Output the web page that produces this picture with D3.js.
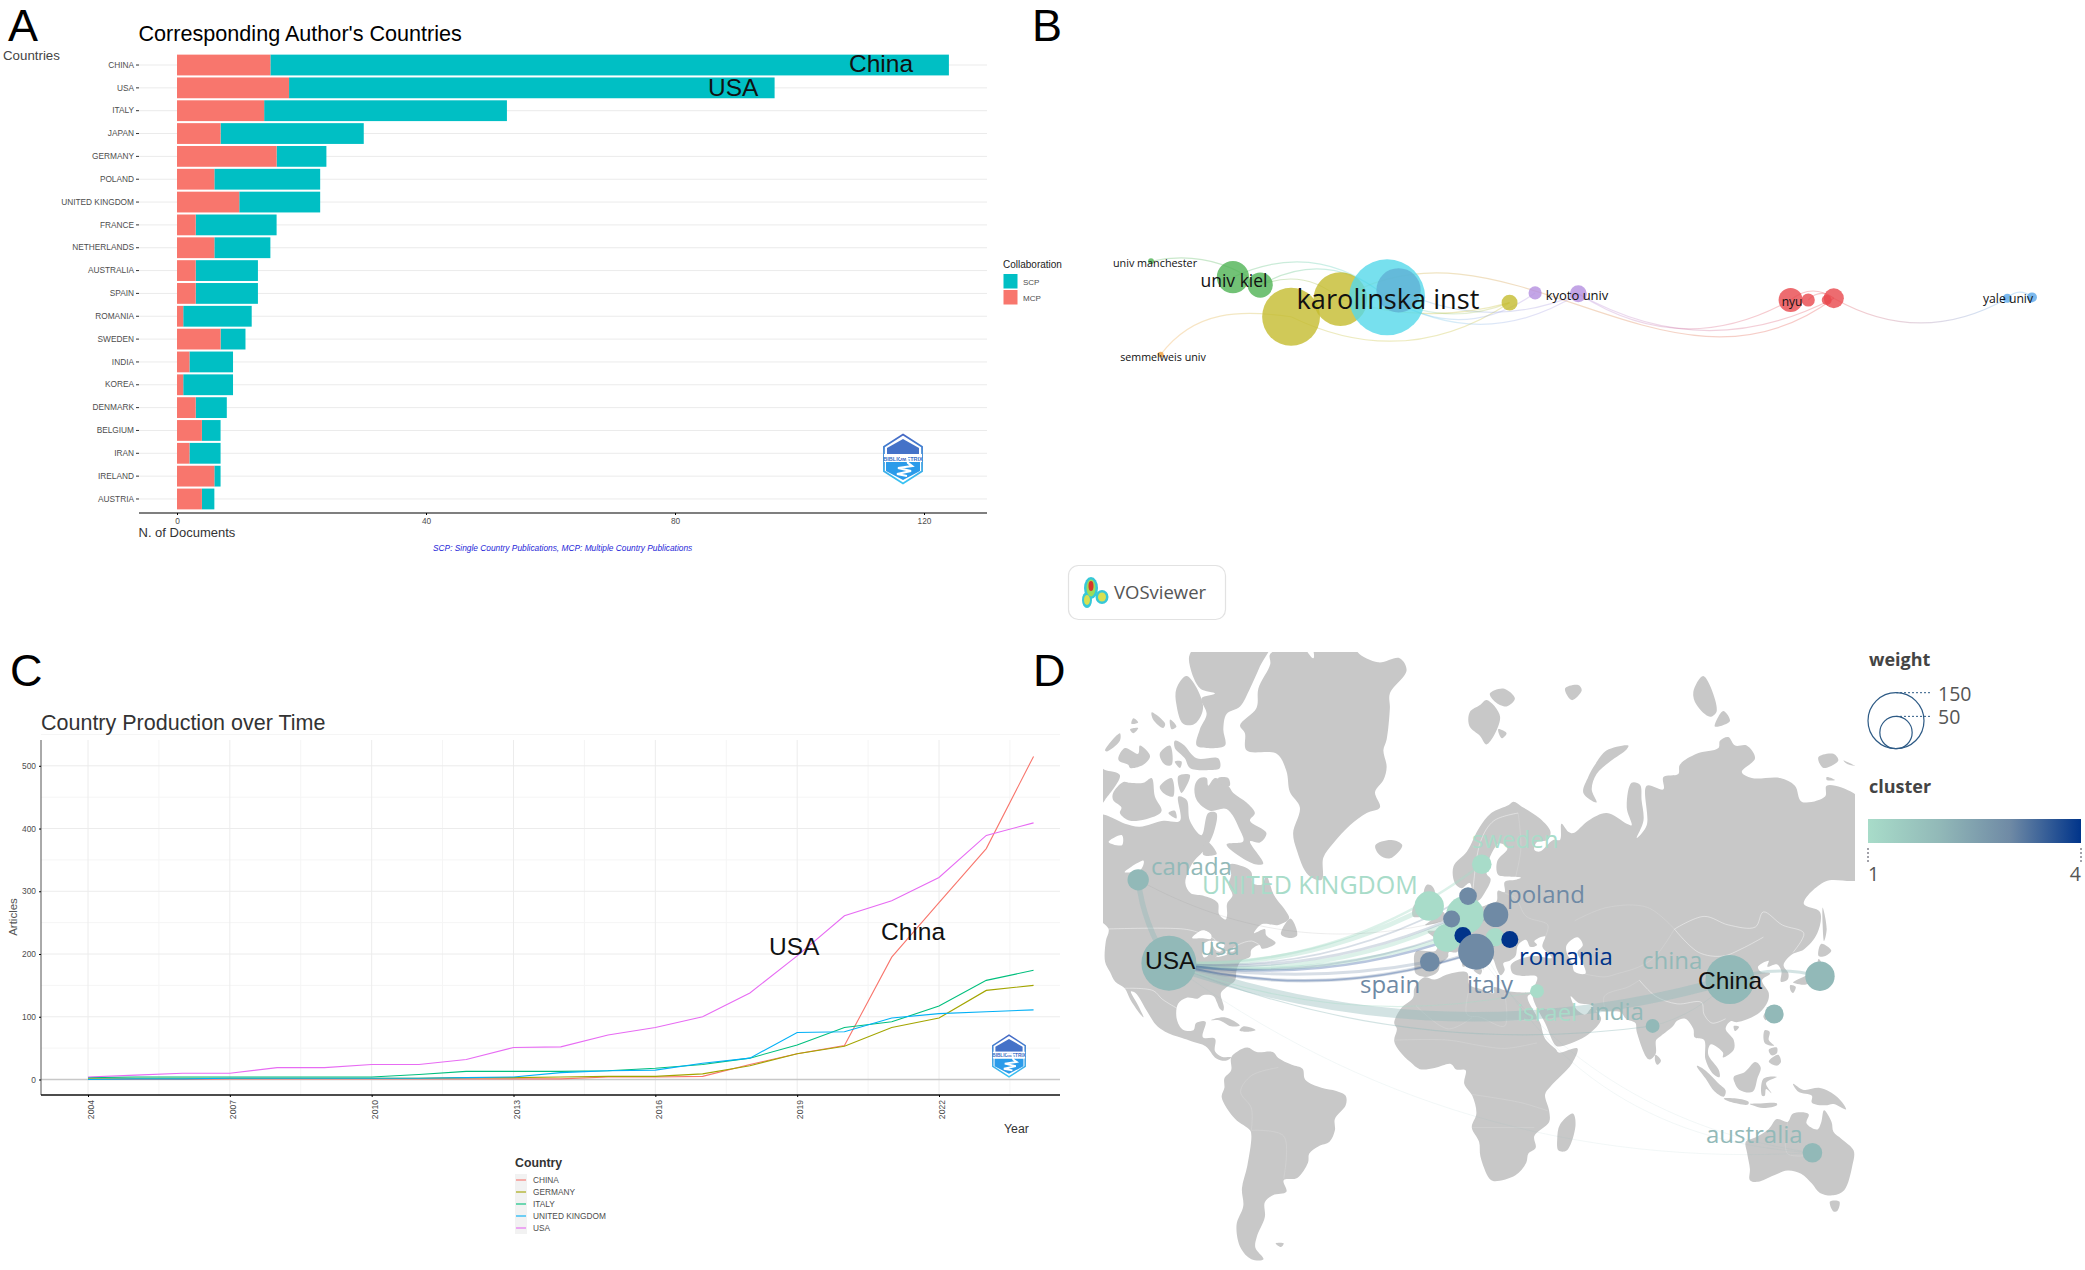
<!DOCTYPE html>
<html>
<head>
<meta charset="utf-8">
<script src="https://cdn.jsdelivr.net/npm/d3@7"></script>
<style>
html, body { margin: 0; padding: 0; background: #fff; }
text { font-family: "Liberation Sans", Arial, sans-serif; }
.vos text, text.vos { font-family: "Open Sans", sans-serif; }
</style>
</head>
<body>
<svg id="chart" width="2085" height="1270"></svg>
<script>
// ---- panel A: corresponding author's countries
var countries = ['CHINA', 'USA', 'ITALY', 'JAPAN', 'GERMANY', 'POLAND', 'UNITED KINGDOM', 'FRANCE', 'NETHERLANDS', 'AUSTRALIA', 'SPAIN', 'ROMANIA', 'SWEDEN', 'INDIA', 'KOREA', 'DENMARK', 'BELGIUM', 'IRAN', 'IRELAND', 'AUSTRIA']
var mcpDocs = [15, 18, 14, 7, 16, 6, 10, 3, 6, 3, 3, 1, 7, 2, 1, 3, 4, 2, 6, 4]
var scpDocs = [109, 78, 39, 23, 8, 17, 13, 13, 9, 10, 10, 11, 4, 7, 8, 5, 3, 5, 1, 2]
var docTicks = [0, 40, 80, 120]

// ---- panel C: country production over time
var years = d3.range(2004, 2025)
var yearTicks = [2004, 2007, 2010, 2013, 2016, 2019, 2022]
var articleTicks = [0, 100, 200, 300, 400, 500]
var seriesNames = ['CHINA', 'GERMANY', 'ITALY', 'UNITED KINGDOM', 'USA']
var chinaArticles = [0, 0, 0, 1, 1, 1, 1, 1, 1, 1, 1, 4, 4, 5, 24, 41, 54, 195, 282, 368, 515]
var germanyArticles = [2, 2, 2, 2, 2, 2, 2, 2, 3, 3, 4, 5, 5, 9, 22, 41, 53, 83, 98, 142, 150]
var italyArticles = [3, 4, 4, 4, 4, 4, 4, 8, 13, 13, 13, 14, 18, 24, 34, 55, 83, 92, 117, 158, 174]
var ukArticles = [0, 1, 1, 2, 2, 2, 2, 2, 3, 4, 11, 14, 15, 26, 34, 75, 76, 98, 105, 108, 111]
var usaArticles = [4, 7, 10, 10, 19, 19, 24, 24, 32, 51, 52, 71, 83, 100, 138, 197, 261, 285, 322, 389, 409]

// ---- panel B: institution network, in map units
var netNames = ['semmelweis univ', 'univ manchester', 'green b', 'univ kiel', 'yellow a', 'yellow b', 'karolinska inst', 'blue a', 'yellow c', 'purple a', 'kyoto univ', 'nyu', 'red b', 'red c', 'red d', 'yale univ', 'blue b']
var netX = [1.1, 0, 12.4, 9.3, 15.9, 21.5, 26.8, 28.1, 40.7, 43.6, 48.5, 72.6, 74.6, 76.7, 77.5, 97.2, 100]
var netY = [6.2, -4.4, -1.7, -2.6, 1.9, -0.1, -0.3, -1.1, 0.3, -0.8, -0.7, 0, 0, 0, -0.2, -0.2, -0.3]
var netWeight = [0.6, 0.6, 11, 18, 58, 50, 100, 34, 4.4, 3, 5, 10, 3, 1.7, 7, 1.4, 1.7]
var netCluster = ['orange', 'green', 'green', 'green', 'yellow', 'yellow', 'cyan', 'blue', 'yellow', 'purple', 'purple', 'red', 'red', 'red', 'red', 'sky', 'sky']
// source, target, bend at 1/3, bend at 2/3
var netLinks = [
    ['univ manchester', 'green b', -0.15, -0.15],
    ['univ kiel', 'karolinska inst', -0.21, -0.21],
    ['green b', 'karolinska inst', -0.23, -0.23],
    ['green b', 'yellow b', -0.2, -0.2],
    ['semmelweis univ', 'yellow a', -0.25, -0.15],
    ['yellow a', 'yellow c', 0.19, 0.19],
    ['yellow b', 'red d', -0.2, 0.25],
    ['kyoto univ', 'nyu', 0.2, 0.2],
    ['kyoto univ', 'red d', 0.18, 0.18],
    ['nyu', 'red d', -0.25, -0.25],
    ['red b', 'red d', -0.3, -0.3],
    ['red d', 'yale univ', 0.19, 0.19],
    ['yale univ', 'blue b', -0.3, -0.3],
    ['karolinska inst', 'purple a', 0.22, 0.22],
    ['karolinska inst', 'kyoto univ', 0.2, 0.2],
    ['blue a', 'kyoto univ', 0.15, 0.15],
    ['karolinska inst', 'yellow c', 0.15, 0.15],
    ['yellow c', 'yellow b', -0.1, -0.1]
]

// ---- panel D: country collaboration map
var mapNames = ['canada', 'usa', 'china', 'japan', 'korea', 'australia', 'india', 'israel', 'sweden', 'united kingdom', 'germany', 'france', 'austria', 'denmark', 'netherlands', 'poland', 'switzerland', 'romania', 'italy', 'spain']
var mapLon = [-112, -100.6, 107.6, 141, 124, 138.2, 78.9, 36, 15.5, -4, 9.3, 2.6, 20.4, 10.4, 4.3, 20.7, 8.5, 25.9, 13.4, -3.8]
var mapLat = [59.6, 40, 35.2, 36.2, 24.1, -25.7, 20, 31.6, 62.4, 54.3, 52.3, 46.8, 47, 56.4, 51.4, 52.4, 47.4, 46.4, 43.2, 40.4]
var mapWeight = [9.5, 63, 50, 18, 7.5, 8, 4, 4, 8, 18, 30, 16, 7, 6.5, 6, 13, 6, 6, 27, 8]
var mapCluster = [2, 2, 2, 2, 2, 2, 2, 1, 1, 1, 1, 1, 1, 3, 3, 3, 4, 4, 3, 3]
// source, target, link strength, bend
var mapLinks = [
    ['usa', 'china', 16, 0.107],
    ['canada', 'usa', 9, 0.08],
    ['usa', 'united kingdom', 8, 0.09],
    ['usa', 'germany', 7, 0.1],
    ['usa', 'france', 6, 0.075],
    ['usa', 'sweden', 4, 0.12],
    ['usa', 'denmark', 3, 0.105],
    ['usa', 'netherlands', 5, 0.085],
    ['usa', 'poland', 3, 0.1],
    ['usa', 'italy', 6, 0.1],
    ['usa', 'spain', 5, 0.06],
    ['usa', 'switzerland', 4, 0.085],
    ['usa', 'romania', 3, 0.11],
    ['usa', 'india', 2, 0.09],
    ['usa', 'israel', 2, 0.1],
    ['usa', 'australia', 1, 0.12],
    ['canada', 'germany', 1.5, 0.14],
    ['china', 'japan', 5, -0.1],
    ['germany', 'australia', 1, 0.2],
    ['italy', 'australia', 1, 0.14],
    ['india', 'china', 1.5, 0.1]
]

// land outlines, lon/lat
var landRings = [
    [[-168,66],[-162,70],[-156,71],[-141,70],[-125,69.8],[-116.9,68.6],[-111.4,68.2],[-102.7,69],[-96.5,69],[-97.1,72],[-94,71.6],[-92.8,69],[-88.5,67],[-86,70],[-83,70],[-84,67.3],[-87,65],[-92,62.5],[-94.5,59],[-92.5,57],[-88,56.5],[-82.5,55],[-82,52.5],[-79.5,51.3],[-79,52.5],[-79,54.8],[-77,56.5],[-78.5,58.7],[-77.5,60.5],[-78,62.4],[-73,62],[-70,61],[-69.5,59],[-66,58.7],[-64.5,60.3],[-61.5,56.5],[-57,53],[-56,51.5],[-60,50],[-66,50.2],[-69,48],[-65,49],[-64.5,47.5],[-61,45.5],[-66,44],[-67,45],[-70,43.7],[-70.5,41.8],[-74,40.5],[-75.5,38],[-76,35],[-79,33],[-81.3,31],[-80.2,26.5],[-80.5,25.2],[-81.8,26],[-82.8,28],[-84,30],[-88,30.3],[-90,29.2],[-94,29.5],[-97.2,27.5],[-97.7,22.5],[-95.5,18.8],[-91.5,18.5],[-90.5,21],[-87,21.5],[-88,16],[-83.5,15.5],[-83.5,11],[-81,9],[-77.5,8.7],[-79.5,7.5],[-83,8.3],[-87,12.8],[-92,14.5],[-96,15.8],[-102,18],[-105.5,20.5],[-109,25.5],[-113,31],[-114.7,31.5],[-112,27],[-110,23],[-112,25],[-115,29],[-117,32.5],[-120.5,34.5],[-122.5,37.5],[-124.3,40.5],[-124,46],[-123,49],[-128,52],[-133,56],[-140,60],[-148,60],[-152,59],[-158,56.5],[-164,54.7],[-158,58.5],[-165,61],[-165,64.5]],
    [[-91,73.2],[-89.1,74],[-86.6,74],[-86,73.2],[-83.5,74],[-78.6,73.2],[-76.7,72.4],[-71.8,71.3],[-68.7,70],[-70.5,69],[-64.4,67.3],[-66.8,65.9],[-70.5,66.1],[-65.6,62.5],[-69.3,62.5],[-79.2,65.6],[-73,66.1],[-74.2,67.7],[-79.2,70.5],[-85.4,70.3],[-90.3,71.6]],
    [[-82.3,74],[-78.6,74],[-78,73.2],[-81,73.3]],
    [[-121.3,72.4],[-117.5,73.6],[-115,73.5],[-110.1,73.5],[-107,74],[-105.8,72],[-103.3,70.3],[-105.2,69.7],[-115,69],[-118.8,70],[-118.2,70.7],[-121.3,71.6]],
    [[-126,75],[-124.3,74.8],[-118.8,74.3],[-124.3,71.6],[-126,71]],
    [[-92.8,82.8],[-87.9,83.3],[-63,83.3],[-66.8,82.2],[-70.5,81],[-74.2,79.9],[-79.2,79.4],[-80.4,78.3],[-79.8,77],[-86.6,76.8],[-90.3,77],[-89.1,78.3],[-86.6,79.4],[-88.5,80.4],[-83.5,80.7],[-89,81],[-92.8,82.2]],
    [[-97.8,81],[-94,81.7],[-87.9,79.9],[-91,78.7],[-95.3,78.7],[-97.8,80]],
    [[-107,79.5],[-102,78.7],[-102.7,78.4],[-106.4,79]],
    [[-100.2,79],[-97.8,78.5],[-99.6,78.3]],
    [[-113.8,79.1],[-112,78.8],[-114.5,78.7]],
    [[-115,78.3],[-112,78.4],[-113.8,78]],
    [[-124.3,76.6],[-118.8,78],[-118.8,77.4],[-123.7,76.5]],
    [[-119.4,75.9],[-116.9,76.8],[-112,76.3],[-111.4,77],[-107.6,76.1],[-110.1,75.3],[-115,75],[-115.7,75.3],[-118.8,75.6]],
    [[-104,76.3],[-100.2,77],[-99.6,75.3],[-102,75.3]],
    [[-98.4,75.6],[-95.9,75.6],[-96.5,75]],
    [[-98.4,77.4],[-95.3,77.1],[-90.3,75.9],[-82.3,75.9],[-81.7,75],[-85.4,74.8],[-92.8,75],[-94.7,75.9],[-98.4,76.8]],
    [[-104,73.1],[-99.6,74],[-99,72],[-102.7,72.4]],
    [[-97.1,74.2],[-92.8,74.3],[-95.9,72.4]],
    [[-100.8,70],[-98.4,70.3],[-97.8,69.3]],
    [[-86.6,66.1],[-82.9,64.1],[-87.9,64]],
    [[-59,47.7],[-55.5,51.5],[-53,47.5],[-56,46.8]],
    [[-85,22],[-80,23],[-74.3,20.2],[-77.5,19.9],[-82,22]],
    [[-74.4,18.4],[-72.8,19.9],[-68.4,18.6],[-71,18]],
    [[-63,82.8],[-52,83.2],[-47,82.6],[-47,84],[-22,84],[-31,83],[-23,82.4],[-15,82.6],[-12.4,82],[-18.6,80.7],[-18.6,79.8],[-19.8,77.5],[-21,76.6],[-19.8,75.1],[-21,73.8],[-24.1,72.5],[-22.3,70.7],[-27.2,70],[-33.4,68.4],[-39.6,65.8],[-43.3,63.5],[-43.9,59.6],[-48.9,60.5],[-53.2,64.8],[-54.5,67.3],[-52,70.7],[-55.7,72.5],[-57,74.7],[-60.6,76.3],[-71.8,76.6],[-72.4,78],[-74.2,78.6],[-68.1,79.8],[-67.4,81],[-63,82.3]],
    [[-77.5,8.7],[-75,11],[-71.5,12.3],[-68,10.7],[-62,10.7],[-60,8.5],[-55,6],[-51,4.5],[-50,0.5],[-44,-2.5],[-38.5,-3.7],[-35,-5.5],[-35,-9],[-39,-14],[-39,-18],[-41,-22],[-45,-23.5],[-48.5,-26],[-49,-29],[-53,-33.8],[-58,-34.5],[-57,-38],[-62,-39],[-65,-41],[-65,-45],[-68,-50],[-68.5,-52.5],[-65.5,-55],[-70,-55],[-74,-52.5],[-75.5,-47],[-73,-42],[-73.5,-37],[-71.5,-30],[-70,-20],[-70.5,-18],[-76,-14],[-81,-6],[-80,-2.5],[-80,1],[-77.5,4]],
    [[-6,35.8],[-2,35.2],[3,36.8],[10,37.3],[11,33.5],[15,32.3],[20,31],[20,32.8],[25,31.6],[32,31.2],[34.3,31.2],[32.5,29.8],[35.5,24],[37.2,21],[39,15.5],[43,11.7],[44,10.5],[51,12],[49,6.5],[45,2],[41,-2],[39,-5],[40.5,-11],[40.5,-15],[35,-20],[35.5,-24],[32.8,-26],[32,-29],[28,-33],[20,-34.8],[18.3,-34],[15,-27],[14.5,-22],[11.8,-17],[13.5,-12],[12,-5.5],[9,-1],[9.5,4],[6,4.3],[4,6.3],[-2,4.8],[-7.5,4.4],[-11,7],[-15,11],[-17,14.7],[-16,19],[-17,21],[-14.5,26],[-10,29.5],[-9.5,32.5]],
    [[49.3,-12],[50.3,-16],[47,-25],[44,-25],[43.5,-21],[44.5,-16]],
    [[-9,37],[-9.5,39],[-9,43.2],[-1.5,43.5],[-1,46],[-4.6,48.4],[-1.5,48.7],[1.5,50.2],[4,52],[5,53.3],[8.5,53.7],[8.2,57],[10.5,57.7],[10,54.8],[14,54],[18.5,54.8],[21,55.3],[21.5,57.5],[24,57.2],[24,59.2],[28,59.6],[30,60],[25,60.2],[21.5,60.6],[21.3,63],[25,65],[22,65.8],[18,63],[17.3,60.7],[18.8,59.7],[16.5,57],[14.3,55.5],[12.8,55.5],[11,59],[8,58],[5.5,59],[5,62],[10,64.5],[14.5,68],[19,70],[25.5,71],[27.2,71.4],[30.9,70.7],[37.1,69.3],[41,67.5],[40,66.3],[36,66],[35,64.8],[37,64.5],[42,66.3],[44.5,66.3],[45.1,68.6],[47.6,67.5],[49.5,67.3],[55,69],[61.9,70],[69.3,68.6],[71.1,68.4],[69.3,70.7],[71.1,73.5],[74.2,73.3],[74.8,71.6],[75.5,69],[73,66.6],[76.7,68.4],[76.7,73.2],[82.9,72.8],[82.9,74.1],[88.4,74.4],[89,75.3],[95.2,76.3],[103.3,76.8],[103.9,77.4],[107,77.7],[109.5,77],[113.8,77],[116.9,75.9],[112,74.6],[115.7,74],[126.2,74],[131.7,73.2],[134.2,71.4],[142.9,72],[143.5,73.2],[153.4,72.4],[160,70],[170,70],[180,69],[180,65],[177,62.5],[170,60],[163,59.8],[162,56],[156.5,51],[155.7,57],[160,60.5],[163,61.8],[155,59.5],[143,59.3],[135,54.8],[141,53],[140,48],[135,43.8],[130.7,42.5],[127.5,39.5],[129.3,37],[129,35.2],[126.5,34.5],[126.7,37.7],[125,39.7],[121.5,39],[122,40.7],[118,39],[119,37.5],[122.5,37],[119.5,35],[122,31],[121.5,28],[118.5,24.5],[114,22.3],[110,21.3],[108,21.7],[106,19],[109,15],[109,11.5],[105,8.7],[105,10.5],[100.5,13.5],[99.5,10],[103.5,4],[103.7,1.4],[101,3],[98.5,8],[98,15],[94.5,16],[94,19],[91,22.5],[88,21.8],[86.5,20],[82,16.5],[80.2,15],[80,10],[77.5,8],[73,18],[72.5,21],[69,22.5],[67,24.8],[61.5,25],[57,25.6],[56.5,27],[51.5,27.8],[48.5,30],[50,26.5],[51.5,25],[54,24],[56.3,26],[59.8,22.5],[55,17],[45,12.8],[43,13],[39,21],[35,28],[34.3,31.2],[36,36],[30.5,36.3],[27,37],[26.3,39.5],[29,41],[35,42],[41.5,41.5],[38,44.5],[39,47.2],[35,46],[36,45],[33.5,44.5],[32,46.3],[29,45],[28,42],[26,40.8],[23.5,40],[24,38],[22.5,36.5],[21,38.5],[19.5,41.5],[14,45.2],[12.4,44.5],[16,41.7],[18.5,40],[16.5,39.5],[16,38],[15.5,40],[12.5,41.5],[10.3,43.5],[8.8,44.4],[6,43],[3.2,43],[3,41.8],[0,39.5],[-0.5,38],[-2,36.8],[-5.5,36]],
    [[-5.5,50],[1.5,51.2],[1.7,52.7],[0,53.5],[-1.7,55.5],[-2,57.6],[-3.5,58.6],[-5,58.6],[-6,56.5],[-3.2,54.8],[-3,53.4],[-5,52],[-3,51.4]],
    [[-10,52],[-6.2,52.2],[-6,54.5],[-8,55.3],[-10,54]],
    [[-24,65.5],[-18,66.3],[-14,65.5],[-18.5,63.4],[-22.5,64]],
    [[11,79.5],[15,80],[17.3,80.3],[22.3,79.2],[17.3,77.1],[14.8,77.8],[11,78.5]],
    [[18.5,80.7],[23.5,81],[27.8,80.4],[24.7,79.9],[20.4,80.2]],
    [[21.6,78.3],[24.7,78],[22.9,77.6]],
    [[46.4,81],[51.3,81.2],[52.6,80.9],[48.9,80.3]],
    [[69.9,77],[61.9,76.6],[57.5,75.3],[55,74.1],[53.2,72.4],[58.1,71.3],[56.3,72.8],[58.1,74.4],[63.1,75.6],[69.3,76.7]],
    [[94,80.8],[97.7,81.7],[102.7,79.6],[100.2,79.2],[95.2,80]],
    [[105.1,79.6],[107.6,78.9],[102,78.5]],
    [[140.4,76],[146,76.3],[147.8,75.7],[142.3,75]],
    [[149.7,75.7],[154,75.2],[151,75.4]],
    [[143.5,74.1],[146.6,73.8],[143.5,73.8]],
    [[142,54],[143.5,49],[142.5,46],[142,50]],
    [[140.5,42],[141.5,45.3],[145.2,43.5],[143,42]],
    [[131,34.3],[136,36.5],[139.5,38.5],[140.5,41.2],[141.8,39.5],[140.8,36],[138.8,34.8],[135.5,33.6],[132,34]],
    [[130,33.5],[132,33],[131,31],[130,32]],
    [[121.5,25.2],[121,22],[120,23.3]],
    [[109,20],[111,19.7],[109.5,18.2]],
    [[120.5,18.5],[122.3,18],[122,15],[124,13],[120.5,14]],
    [[122,7.2],[125.5,9.7],[126.5,7],[125,5.7]],
    [[122,11.5],[125,12.3],[125,10.2],[123,9.5]],
    [[80,9.7],[82,7.5],[80.6,6],[79.8,7.5]],
    [[109,1.5],[113,3.2],[117,7],[119,5],[117.8,1],[116,-4],[111,-3.2],[109.3,-0.5]],
    [[95.3,5.6],[98,4.3],[103.5,-1],[106,-3.5],[105.3,-5.8],[102,-4],[98.5,1]],
    [[105.3,-6.5],[110,-6.5],[114.5,-7.7],[114.3,-8.7],[108,-7.8]],
    [[119.5,-5.5],[120,0.8],[125,1.5],[121,-0.7],[123,-4.5],[121,-3],[120.5,-5.5]],
    [[131,-1],[135,-3.3],[141,-2.6],[147.5,-6],[150.7,-10.5],[146,-8.5],[143,-9],[138,-8],[138,-5.5],[133,-4]],
    [[115,-8.5],[119,-8.3],[125,-8.3],[125,-9],[120,-10],[116,-9]],
    [[113.5,-22],[114,-26],[115,-31],[115,-34.5],[118,-35],[124,-33],[129,-31.5],[134,-32.5],[138,-35.5],[141,-38.3],[146,-39],[150,-37.5],[153,-30],[153.5,-25],[149,-21],[146,-18.5],[145.3,-15],[142.5,-10.8],[141.5,-15],[140,-17.7],[136,-15.5],[136.8,-12.2],[131,-12],[129,-15],[125,-14],[122,-17.5],[117,-20.5]],
    [[144.7,-40.8],[148.2,-40.8],[147.5,-43.3],[146,-43.5]],
    [[8.3,41],[9.7,41],[9.5,39.2],[8.5,39]],
    [[12.5,38],[15.5,38.2],[15,36.7]],
    [[-61,-51.5],[-58,-51.5],[-59,-52.3]]
]
var lakeRings = [
    [[47,45],[51,47],[53,45],[51,43],[53,40],[54,37],[50,37.5],[49,40],[47,43]],
    [[-92,46.8],[-88,48.7],[-85,47.7],[-85,46.6],[-88,46.7]],
    [[-87.7,41.7],[-88,45],[-85,46],[-86.2,42]],
    [[-84.5,46],[-80,45],[-81.7,43.2],[-83.5,43.8]],
    [[-83.3,41.7],[-79,43],[-76.2,44],[-76.5,43.3],[-79.7,43.2],[-79,42.5]],
    [[-123,66],[-118,67],[-118,65.5]],
    [[-117,61],[-110,63],[-111,61.5]]
]
var borderLines = [
    [[-125,49],[-95,49],[-89,48],[-83,46],[-82.5,42],[-79,43],[-75,45],[-70,46],[-67,45]],
    [[-117,32.5],[-106.5,31.8],[-103,29],[-97.5,26]],
    [[87,49],[98,52],[107,50],[117,49.5],[120,53],[127,50],[135,48],[131,43]],
    [[87,49],[96,43],[105,42],[112,44],[120,47]],
    [[74,35],[80,30],[88,27.5],[97,28],[98,24],[101,21],[106,22.5]],
    [[12,56],[15,66],[20,69],[29,70]]
]
var faintBorderLines = [
    [[50,51],[62,54],[77,54],[87,49]],
    [[74,35],[70,33],[61,30],[61.5,25]],
    [[53,37],[61,36],[66,37],[74,39],[80,42],[87,49]],
    [[11,33],[10,24],[15,23],[24,20],[24,31]],
    [[24,22],[37,22]],
    [[-9,27],[3,19],[12,23]],
    [[-17,15],[3,15],[15,13],[24,12],[36,14]],
    [[12,-5],[30,-8],[40,-11]],
    [[12,-17],[35,-17]],
    [[-70,-18],[-58,-20],[-58,-34]],
    [[-70,-18],[-70,-10],[-74,-4],[-70,2],[-60,5]],
    [[24,57],[28,56],[32,52],[40,50],[39,47]],
    [[28,60],[30,65],[29,70]],
    [[141,-26],[129,-26],[129,-15]]
]

// ---- style tables
var clusterHue = { orange: '#f0a040', green: '#4fb354', yellow: '#c4bc2e', cyan: '#55d8ea', blue: '#5fb0d4', purple: '#b48ee0', red: '#e8474c', sky: '#5aa8ea' }
var barColor = { scp: '#00BFC4', mcp: '#F8766D' }
var lineColors = ['#F8766D', '#A3A500', '#00BF7D', '#00B0F6', '#E76BF3']
var textGrey = '#4d4d4d'

var svg = d3.select('#chart')
var defs = svg.append('defs')

// panel letters
var letters = [['A', 8, 41], ['B', 1032, 41], ['C', 10, 686], ['D', 1033, 686]]
svg.selectAll('text.letter').data(letters).enter().append('text')
    .attr('class', 'letter').text(d => d[0]).attr('x', d => d[1]).attr('y', d => d[2])
    .attr('font-size', 45).attr('fill', '#000')

// bibliometrix badge, used in A and C
function drawLogo(cx, cy, size, id) {
    var g = svg.append('g').attr('transform', 'translate(' + cx + ',' + cy + ') scale(' + size + ')')
    var grad = defs.append('linearGradient').attr('id', id).attr('x1', 0).attr('x2', 0).attr('y1', 0).attr('y2', 1)
    grad.append('stop').attr('offset', 0).attr('stop-color', '#4668c4')
    grad.append('stop').attr('offset', 1).attr('stop-color', '#38c4f4')
    var hex = d3.range(6).map(function (i) {
        var a = Math.PI / 3 * i
        return [Math.sin(a) * 22, -Math.cos(a) * 24.5]
    })
    g.append('path').attr('d', d3.line()(hex) + 'Z').attr('fill', '#fff').attr('stroke', 'url(#' + id + ')').attr('stroke-width', 1.8)
    g.append('path').attr('d', 'M0,-20L16,-11L16,-5L-16,-5L-16,-11Z').attr('fill', '#4472c8')
    g.append('path').attr('d', 'M-17,3L17,3L17,12L0,21L-17,12Z').attr('fill', '#2b9bea')
    g.append('rect').attr('x', -19).attr('y', -5).attr('width', 38).attr('height', 8).attr('fill', '#fff')
    g.append('text').text('BIBLIOMETRIX').attr('text-anchor', 'middle').attr('y', 1.5)
        .attr('font-size', 5.5).attr('font-weight', 700).attr('fill', '#3a6cc4')
    g.append('path').attr('d', 'M-3,-2L4,-2L5,4L9,7L-5,9L8,12L-6,15L4,17').attr('fill', 'none').attr('stroke', '#fff').attr('stroke-width', 2.2)
}

// ================ A ================
var axA = { left: 139, right: 987, bottom: 513 }
var xA = d3.scaleLinear().domain([0, 120]).range([177, 924])
var yA = d3.scaleBand().domain(countries).range([53.6, 510.4]).paddingInner(0.09).paddingOuter(0.045)
var gA = svg.append('g')

svg.append('text').text("Corresponding Author's Countries").attr('x', 138.5).attr('y', 41).attr('font-size', 21.6).attr('fill', '#000')
svg.append('text').text('Countries').attr('x', 3).attr('y', 60).attr('font-size', 13.3).attr('fill', '#444')

gA.selectAll('line.grid').data(countries).enter().append('line')
    .attr('x1', axA.left).attr('x2', axA.right)
    .attr('y1', d => yA(d) + yA.bandwidth() / 2).attr('y2', d => yA(d) + yA.bandwidth() / 2)
    .attr('stroke', '#ebebeb').attr('stroke-width', 1)

gA.selectAll('rect.scp').data(countries).enter().append('rect')
    .attr('x', (d, i) => xA(mcpDocs[i])).attr('y', d => yA(d))
    .attr('width', (d, i) => xA(scpDocs[i]) - xA(0)).attr('height', yA.bandwidth())
    .attr('fill', barColor.scp)
gA.selectAll('rect.mcp').data(countries).enter().append('rect')
    .attr('x', xA(0)).attr('y', d => yA(d))
    .attr('width', (d, i) => xA(mcpDocs[i]) - xA(0)).attr('height', yA.bandwidth())
    .attr('fill', barColor.mcp)

var axisLeftA = gA.append('g').attr('transform', 'translate(' + axA.left + ',0)')
    .call(d3.axisLeft(yA).tickSize(3).tickPadding(2))
axisLeftA.select('.domain').remove()
axisLeftA.selectAll('text').attr('font-size', 8.3).attr('fill', textGrey).attr('font-family', 'Liberation Sans')
axisLeftA.selectAll('line').attr('stroke', '#333')

var axisBottomA = gA.append('g').attr('transform', 'translate(0,' + axA.bottom + ')')
    .call(d3.axisBottom(xA).tickValues(docTicks).tickSize(2).tickPadding(3))
axisBottomA.select('.domain').attr('d', 'M' + axA.left + ',0H' + axA.right).attr('stroke', '#555').attr('stroke-width', 1.5)
axisBottomA.selectAll('text').attr('font-size', 8.3).attr('fill', textGrey).attr('font-family', 'Liberation Sans')

svg.append('text').text('N. of Documents').attr('x', 138.5).attr('y', 537).attr('font-size', 13).attr('fill', '#333')
svg.append('text').text('SCP: Single Country Publications, MCP: Multiple Country Publications')
    .attr('x', 433).attr('y', 551).attr('font-size', 8.35).attr('font-style', 'italic').attr('fill', '#1f1fd8')
svg.append('text').text('China').attr('x', 849).attr('y', 72).attr('font-size', 24.5).attr('fill', '#111')
svg.append('text').text('USA').attr('x', 708).attr('y', 96).attr('font-size', 24.5).attr('fill', '#111')

svg.append('text').text('Collaboration').attr('x', 1003).attr('y', 268).attr('font-size', 10).attr('fill', '#222')
var legA = [['SCP', barColor.scp, 274], ['MCP', barColor.mcp, 290]]
svg.selectAll('rect.legA').data(legA).enter().append('rect').attr('class', 'legA')
    .attr('x', 1003.5).attr('y', d => d[2]).attr('width', 14).attr('height', 14.5).attr('fill', d => d[1])
svg.selectAll('text.legA').data(legA).enter().append('text').attr('class', 'legA')
    .text(d => d[0]).attr('x', 1023).attr('y', d => d[2] + 10.5).attr('font-size', 8).attr('fill', textGrey)

drawLogo(903, 459, 1, 'logoA')

// ================ B ================
var xB = d3.scaleLinear().domain([0, 100]).range([1151, 2032])
var yB = d3.scaleLinear().domain([-10, 10]).range([211.9, 388.1])
var rB = d3.scaleSqrt().domain([0, 100]).range([0, 38])
var netIndex = {}
netNames.forEach(function (n, i) { netIndex[n] = i })

// cubic link, both controls pushed sideways from the chord
function bentPath(ax, ay, bx, by, b1, b2) {
    var dx = bx - ax, dy = by - ay
    return 'M' + ax + ',' + ay + 'C' + (ax + dx / 3 - dy * b1) + ',' + (ay + dy / 3 + dx * b1) + ' '
        + (ax + dx * 2 / 3 - dy * b2) + ',' + (ay + dy * 2 / 3 + dx * b2) + ' ' + bx + ',' + by
}

var gB = svg.append('g')
netLinks.forEach(function (l, i) {
    var a = netIndex[l[0]], b = netIndex[l[1]]
    var id = 'netlink' + i
    var grad = defs.append('linearGradient').attr('id', id).attr('gradientUnits', 'userSpaceOnUse')
        .attr('x1', xB(netX[a])).attr('y1', 0).attr('x2', xB(netX[b])).attr('y2', 0)
    grad.append('stop').attr('offset', 0).attr('stop-color', clusterHue[netCluster[a]])
    grad.append('stop').attr('offset', 1).attr('stop-color', clusterHue[netCluster[b]])
    gB.append('path').attr('d', bentPath(xB(netX[a]), yB(netY[a]), xB(netX[b]), yB(netY[b]), l[2], l[3]))
        .attr('fill', 'none').attr('stroke', 'url(#' + id + ')').attr('stroke-width', 1.2).attr('stroke-opacity', 0.3)
})
gB.selectAll('circle').data(netNames).enter().append('circle')
    .attr('cx', (d, i) => xB(netX[i])).attr('cy', (d, i) => yB(netY[i])).attr('r', (d, i) => rB(netWeight[i]))
    .attr('fill', (d, i) => clusterHue[netCluster[i]]).attr('fill-opacity', 0.8)

var netLabels = [
    ['karolinska inst', 27.2, 1388, 309],
    ['univ kiel', 17.5, 1234, 287],
    ['univ manchester', 10.8, 1155, 267],
    ['semmelweis univ', 10.7, 1163, 361],
    ['kyoto univ', 13, 1577, 300],
    ['nyu', 12, 1792, 306],
    ['yale univ', 12.2, 2008, 303]
]
gB.selectAll('text').data(netLabels).enter().append('text').attr('class', 'vos')
    .text(d => d[0]).attr('font-size', d => d[1]).attr('x', d => d[2]).attr('y', d => d[3])
    .attr('text-anchor', 'middle').attr('fill', '#111')

// VOSviewer badge
svg.append('rect').attr('x', 1068.5).attr('y', 565.5).attr('width', 157).attr('height', 54).attr('rx', 10)
    .attr('fill', '#fff').attr('stroke', '#e2e2e2').attr('stroke-width', 1.2)
var blobs = [[1091, 588, 7, 11, '#36c8d8'], [1087, 600, 5, 8, '#36c8d8'], [1102, 597, 6.5, 7, '#36c8d8'],
    [1091, 588, 4.5, 8.5, '#9bdc5a'], [1087, 600, 3, 5, '#d8e050'], [1102, 597, 4, 4.5, '#d8e050'], [1091, 586, 2.5, 5, '#d8362a']]
svg.selectAll('ellipse').data(blobs).enter().append('ellipse')
    .attr('cx', d => d[0]).attr('cy', d => d[1]).attr('rx', d => d[2]).attr('ry', d => d[3]).attr('fill', d => d[4])
svg.append('text').attr('class', 'vos').text('VOSviewer').attr('x', 1114).attr('y', 599).attr('font-size', 18.5).attr('fill', '#555')

// ================ C ================
var xC = d3.scaleLinear().domain([2004, 2022]).range([88, 939])
var yC = d3.scaleLinear().domain([0, 500]).range([1079.5, 765.8])
var frameC = { left: 41, right: 1060, top: 740, bottom: 1095 }
var gC = svg.append('g')

svg.append('text').text('Country Production over Time').attr('x', 41).attr('y', 730).attr('font-size', 21.5).attr('fill', '#333')

// grid: minor then major
var minorYears = yearTicks.map(d => d + 1.5)
var minorArticles = articleTicks.map(d => d + 50)
gC.selectAll('line.minx').data(minorYears).enter().append('line')
    .attr('x1', d => xC(d)).attr('x2', d => xC(d)).attr('y1', frameC.top).attr('y2', frameC.bottom).attr('stroke', '#f5f5f5')
gC.selectAll('line.miny').data(minorArticles).enter().append('line')
    .attr('y1', d => yC(d)).attr('y2', d => yC(d)).attr('x1', frameC.left).attr('x2', frameC.right).attr('stroke', '#f5f5f5')
gC.selectAll('line.majx').data(yearTicks).enter().append('line')
    .attr('x1', d => xC(d)).attr('x2', d => xC(d)).attr('y1', frameC.top).attr('y2', frameC.bottom).attr('stroke', '#ececec')
gC.selectAll('line.majy').data(articleTicks).enter().append('line')
    .attr('y1', d => yC(d)).attr('y2', d => yC(d)).attr('x1', frameC.left).attr('x2', frameC.right)
    .attr('stroke', d => d === 0 ? '#c8c8c8' : '#ececec').attr('stroke-width', d => d === 0 ? 1.3 : 1)

var axisLeftC = gC.append('g').attr('transform', 'translate(' + frameC.left + ',0)')
    .call(d3.axisLeft(yC).tickValues(articleTicks).tickSize(2).tickPadding(3))
axisLeftC.select('.domain').attr('d', 'M0,' + frameC.top + 'V' + frameC.bottom).attr('stroke', '#555')
axisLeftC.selectAll('text').attr('font-size', 8.4).attr('fill', textGrey).attr('font-family', 'Liberation Sans')

var axisBottomC = gC.append('g').attr('transform', 'translate(0,' + frameC.bottom + ')')
    .call(d3.axisBottom(xC).tickValues(yearTicks).tickFormat(d3.format('d')).tickSize(2))
axisBottomC.select('.domain').attr('d', 'M' + frameC.left + ',0H' + frameC.right).attr('stroke', '#111').attr('stroke-width', 1.6)
axisBottomC.selectAll('text').attr('font-size', 8.6).attr('fill', textGrey).attr('font-family', 'DejaVu Sans')
    .attr('text-anchor', 'end').attr('transform', 'rotate(-90)').attr('x', -5).attr('y', 3).attr('dy', '0.32em')

svg.append('text').text('Articles').attr('transform', 'translate(17,917) rotate(-90)').attr('text-anchor', 'middle')
    .attr('font-size', 11.5).attr('font-family', 'DejaVu Sans').attr('fill', '#555')
svg.append('text').text('Year').attr('x', 1004).attr('y', 1133).attr('font-size', 12.3).attr('fill', '#333')

var line = d3.line().x((d, i) => xC(years[i])).y(d => yC(d))
var seriesValues = [chinaArticles, germanyArticles, italyArticles, ukArticles, usaArticles]
gC.selectAll('path.cline').data(seriesValues).enter().append('path')
    .attr('class', 'cline').attr('d', line).attr('fill', 'none')
    .attr('stroke', (d, i) => lineColors[i]).attr('stroke-width', 1.1)

svg.append('text').text('USA').attr('x', 769).attr('y', 955).attr('font-size', 24.5).attr('fill', '#111')
svg.append('text').text('China').attr('x', 881).attr('y', 940).attr('font-size', 24.5).attr('fill', '#111')

svg.append('text').text('Country').attr('x', 515).attr('y', 1167).attr('font-size', 12.3).attr('font-weight', 700).attr('fill', '#333')
var yLeg = d3.scalePoint().domain(seriesNames).range([1180, 1228])
svg.append('rect').attr('x', 515).attr('y', 1174).attr('width', 12).attr('height', 60).attr('fill', '#f2f2f2')
svg.selectAll('line.legC').data(seriesNames).enter().append('line')
    .attr('x1', 516).attr('x2', 526).attr('y1', d => yLeg(d)).attr('y2', d => yLeg(d))
    .attr('stroke', (d, i) => lineColors[i]).attr('stroke-width', 1.1)
svg.selectAll('text.legC').data(seriesNames).enter().append('text').attr('class', 'legC')
    .text(d => d).attr('x', 533).attr('y', d => yLeg(d) + 3).attr('font-size', 8.3).attr('fill', textGrey)

drawLogo(1009, 1056, 0.85, 'logoC')

// ================ D ================
var projection = d3.geoMercator().scale(154.4).translate([1440, 1081])
var box = { x: 1103, y: 652, w: 752, h: 613 }
defs.append('clipPath').attr('id', 'mapclip').append('rect')
    .attr('x', box.x).attr('y', box.y).attr('width', box.w).attr('height', box.h)
var gD = svg.append('g').attr('clip-path', 'url(#mapclip)')
var smoothRing = d3.line().curve(d3.curveCatmullRomClosed.alpha(0.5))
var ringPath = function (r) { return smoothRing(r.map(projection)) }
var openPath = function (r) { return d3.line().curve(d3.curveCatmullRom.alpha(0.5))(r.map(projection)) }

gD.selectAll('path.land').data(landRings).enter().append('path').attr('class', 'land')
    .attr('d', ringPath).attr('fill', '#c8c8c8')
gD.selectAll('path.lake').data(lakeRings).enter().append('path').attr('class', 'lake')
    .attr('d', ringPath).attr('fill', '#fff')
gD.selectAll('path.border').data(borderLines).enter().append('path').attr('class', 'border')
    .attr('d', openPath).attr('fill', 'none')
    .attr('stroke', '#fff').attr('stroke-opacity', 0.55).attr('stroke-width', 0.8)
gD.selectAll('path.faint').data(faintBorderLines).enter().append('path').attr('class', 'faint')
    .attr('d', openPath).attr('fill', 'none')
    .attr('stroke', '#fff').attr('stroke-opacity', 0.18).attr('stroke-width', 0.8)

var clusterColor = d3.scaleLinear().domain([1, 2, 3, 4]).range(['#a8dcc9', '#92b9b8', '#6f8aa5', '#00348a'])
var rMap = d3.scaleSqrt().domain([0, 63]).range([0, 27.5])
var widthMap = d3.scaleLinear().domain([0, 16]).range([0, 9.5])
var mapIndex = {}
mapNames.forEach(function (n, i) { mapIndex[n] = i })

gD.selectAll('path.mlink').data(mapLinks).enter().append('path').attr('class', 'mlink')
    .attr('d', function (l) {
        var a = mapIndex[l[0]], b = mapIndex[l[1]]
        var p = projection([mapLon[a], mapLat[a]]), q = projection([mapLon[b], mapLat[b]])
        return bentPath(p[0], p[1], q[0], q[1], l[3], l[3])
    })
    .attr('fill', 'none').attr('stroke-width', l => widthMap(l[2]))
    .attr('stroke', l => l[0] === 'canada' && l[1] !== 'usa' ? '#9a9a9a' : clusterColor(mapCluster[mapIndex[l[1]]]))
    .attr('stroke-opacity', function (l) {
        if (l[2] <= 1.5) return 0.2
        return mapCluster[mapIndex[l[1]]] > 2 ? 0.28 : 0.4
    })

gD.selectAll('circle').data(mapNames).enter().append('circle')
    .attr('cx', (d, i) => projection([mapLon[i], mapLat[i]])[0])
    .attr('cy', (d, i) => projection([mapLon[i], mapLat[i]])[1])
    .attr('r', (d, i) => rMap(mapWeight[i]))
    .attr('fill', (d, i) => clusterColor(mapCluster[i]))

var mapLabels = [
    ['canada', 1151, 875, 2, 24], ['UNITED KINGDOM', 1202, 894, 1, 25], ['usa', 1200, 955, 2, 24],
    ['sweden', 1472, 848, 1, 24], ['poland', 1507, 903, 3, 24], ['romania', 1519, 965, 4, 24],
    ['spain', 1360, 993, 3, 24], ['italy', 1467, 993, 3, 24], ['china', 1642, 969, 2, 24],
    ['israel', 1517, 1021, 1, 24], ['india', 1589, 1020, 2, 24], ['australia', 1706, 1143, 2, 24]
]
gD.selectAll('text.mlabel').data(mapLabels).enter().append('text').attr('class', 'vos mlabel')
    .text(d => d[0]).attr('x', d => d[1]).attr('y', d => d[2]).attr('font-size', d => d[4])
    .attr('fill', d => clusterColor(d[3]))
svg.append('text').text('USA').attr('x', 1145).attr('y', 969).attr('font-size', 24.5).attr('fill', '#111')
svg.append('text').text('China').attr('x', 1698).attr('y', 989).attr('font-size', 24.5).attr('fill', '#111')

// D legends
var legD = svg.append('g').attr('class', 'vos')
legD.append('text').text('weight').attr('x', 1869).attr('y', 666).attr('font-size', 18).attr('font-weight', 700).attr('fill', '#444')
legD.append('text').text('cluster').attr('x', 1869).attr('y', 793).attr('font-size', 18).attr('font-weight', 700).attr('fill', '#444')
var legCircles = [[150, 'big'], [50, 'small']]
var rLeg = d3.scaleSqrt().domain([0, 150]).range([0, 28])
var legBase = 748.7
legD.selectAll('circle').data(legCircles).enter().append('circle')
    .attr('cx', 1896).attr('cy', d => legBase - rLeg(d[0])).attr('r', d => rLeg(d[0]))
    .attr('fill', 'none').attr('stroke', '#2d5a85').attr('stroke-width', 1.2)
legD.selectAll('line.lead').data(legCircles).enter().append('line')
    .attr('x1', 1896).attr('x2', 1930)
    .attr('y1', d => legBase - 2 * rLeg(d[0])).attr('y2', d => legBase - 2 * rLeg(d[0]))
    .attr('stroke', '#2d5a85').attr('stroke-dasharray', '2 2')
legD.selectAll('text.size').data(legCircles).enter().append('text').attr('class', 'size')
    .text(d => d[0]).attr('x', 1938).attr('y', d => legBase - 2 * rLeg(d[0]) + 8).attr('font-size', 19.5).attr('fill', '#555')

var legGrad = defs.append('linearGradient').attr('id', 'clusterbar')
;[1, 2, 3, 4].forEach(function (c) {
    legGrad.append('stop').attr('offset', (c - 1) / 3).attr('stop-color', clusterColor(c))
})
var xLeg = d3.scaleLinear().domain([1, 4]).range([1868, 2081])
legD.append('rect').attr('x', xLeg(1)).attr('y', 819).attr('width', xLeg(4) - xLeg(1)).attr('height', 24).attr('fill', 'url(#clusterbar)')
legD.selectAll('line.dash').data([1, 4]).enter().append('line')
    .attr('x1', d => xLeg(d)).attr('x2', d => xLeg(d)).attr('y1', 848).attr('y2', 862)
    .attr('stroke', '#445').attr('stroke-dasharray', '2 2')
legD.selectAll('text.end').data([1, 4]).enter().append('text').attr('class', 'end')
    .text(d => d).attr('x', d => xLeg(d)).attr('y', 881).attr('font-size', 19.5).attr('fill', '#555')
    .attr('text-anchor', d => d === 1 ? 'start' : 'end')
</script>
</body>
</html>
